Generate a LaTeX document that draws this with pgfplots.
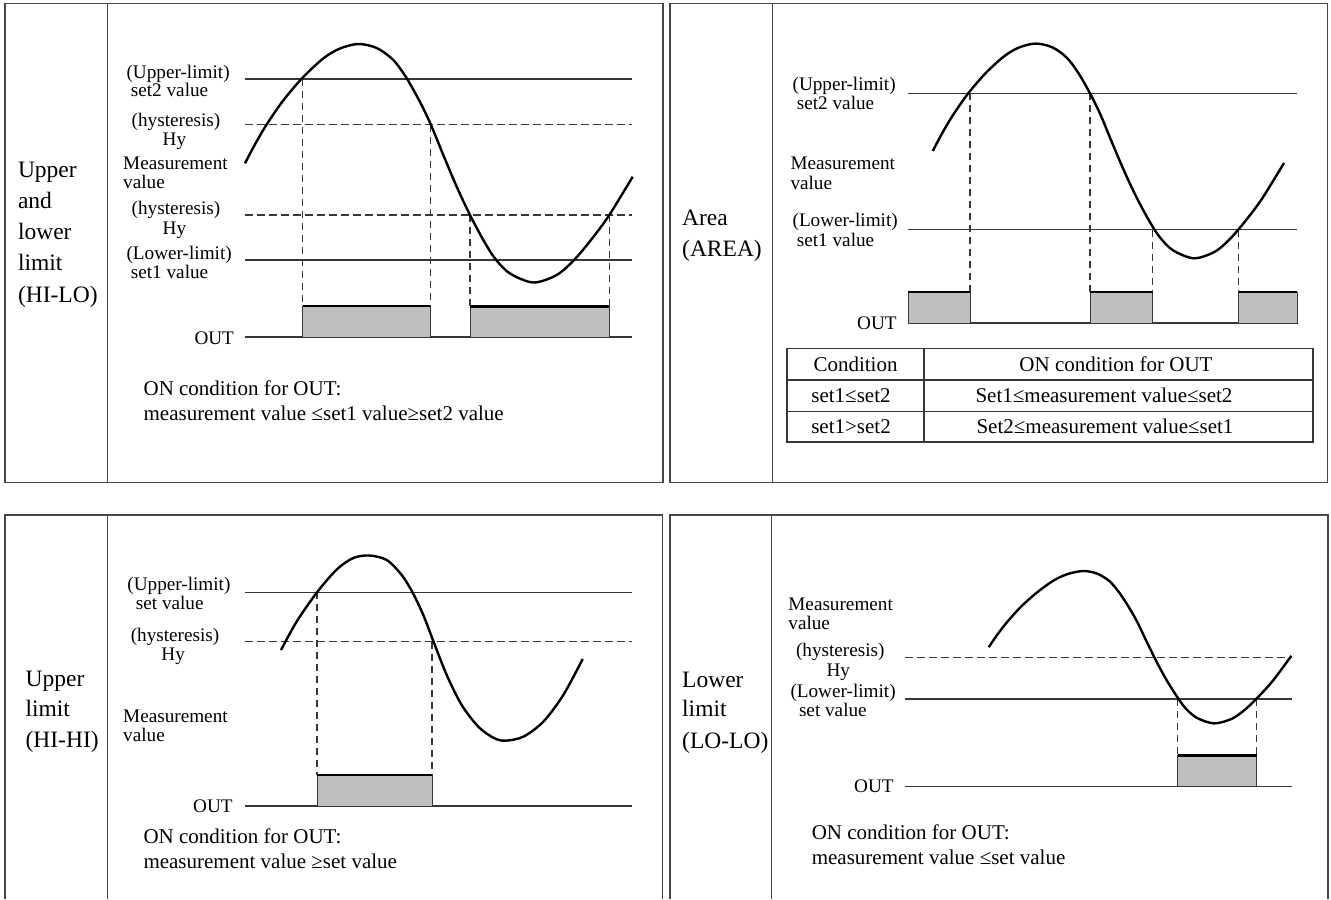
\documentclass[border=0pt]{standalone}
\usepackage{pgfplots}
\pgfplotsset{compat=1.18}
\usepackage{fontspec}
\setmainfont{Liberation Serif}

\definecolor{boxgray}{RGB}{190,192,190}
\definecolor{ln}{RGB}{55,55,55}
\definecolor{frm}{RGB}{70,70,70}

\tikzset{
  lbl/.style={font=\fontsize{19.2}{20}\selectfont, inner sep=0pt, anchor=base west},
  cond/.style={font=\fontsize{21}{24}\selectfont, inner sep=0pt, anchor=base west},
  side/.style={font=\fontsize{23.5}{26}\selectfont, inner sep=0pt, anchor=base west},
  cell/.style={font=\fontsize{21}{24}\selectfont, inner sep=0pt, anchor=base},
}
\pgfplotsset{
  lim/.style={ln, line width=1.5pt},
  hy/.style={ln, line width=1.3pt, dash pattern=on 7.5pt off 4.5pt},
  drop/.style={ln, line width=1.1pt, dash pattern=on 7pt off 5pt},
  sig/.style={black, line width=2.4pt, smooth},
  outbox/.style={fill=boxgray, draw=ln, line width=1pt},
  outtop/.style={black, line width=2.8pt},
  frame/.style={frm, line width=1.6pt},
}

\begin{document}
\begin{tikzpicture}
\begin{axis}[
    width=1331pt, height=899pt, scale only axis,
    xmin=0, xmax=1331, ymin=0, ymax=899,
    y dir=reverse, hide axis, clip=false, no markers,
  ]
% page
\addplot[fill=white, draw=none] coordinates {(0,0) (1331,0) (1331,899) (0,899)} -- cycle;

% frames
\addplot[frame] coordinates {(5,3.5) (663,3.5) (663,482.5) (5,482.5)} -- cycle;
\addplot[frame] coordinates {(107.3,3.5) (107.3,482.5)};
\addplot[frame] coordinates {(670,3.5) (1327.5,3.5) (1327.5,482.5) (670,482.5)} -- cycle;
\addplot[frame] coordinates {(772.5,3.5) (772.5,482.5)};
\addplot[frame] coordinates {(5,899) (5,515) (662.5,515) (662.5,899)};
\addplot[frame] coordinates {(107.3,515) (107.3,899)};
\addplot[frame] coordinates {(670,899) (670,515) (1328,515) (1328,899)};
\addplot[frame] coordinates {(771.6,515) (771.6,899)};

% ---------- panel 1: HI-LO ----------
\addplot[lim] coordinates {(245,79) (632,79)};
\addplot[hy] coordinates {(245,124.5) (632,124.5)};
\addplot[hy] coordinates {(245,215) (632,215)};
\addplot[lim] coordinates {(245,260) (632,260)};
\addplot[lim] coordinates {(245,337) (632,337)};
\addplot[outbox] coordinates {(302.7,337) (302.7,306) (430.7,306) (430.7,337)} -- cycle;
\addplot[outbox] coordinates {(470,337) (470,306.5) (609.3,306.5) (609.3,337)} -- cycle;
\addplot[outtop] coordinates {(302.7,306) (430.7,306)};
\addplot[outtop] coordinates {(470,306.5) (609.3,306.5)};
\addplot[drop] coordinates {(302.7,79) (302.7,306)};
\addplot[drop] coordinates {(430.7,124.5) (430.7,306)};
\addplot[drop] coordinates {(470,215) (470,306)};
\addplot[drop] coordinates {(609.3,215) (609.3,306)};
\addplot[sig] coordinates {
  (245,163.3) (255,144.3) (266.7,124.4) (283.3,100.4) (302.7,77.6)
  (323.3,58.4) (340,48.5) (358.3,44) (376.7,48) (393.3,60)
  (406.7,78.3) (420,102) (430.7,124.3) (443.3,155) (456.7,186.7)
  (470,215) (483.3,240) (495,258.5) (510,273.5) (533.3,282.5)
  (556.7,275) (575,259) (593.3,237) (609.3,215) (632.7,176.7)};

\node[lbl] at (126.4,78.3) {(Upper-limit)};
\node[lbl] at (130.7,96.8) {set2 value};
\node[lbl] at (131.5,126.8) {(hysteresis)};
\node[lbl] at (162.5,145.8) {Hy};
\node[lbl] at (123,169.8) {Measurement};
\node[lbl] at (123,188.8) {value};
\node[lbl] at (131.5,214.8) {(hysteresis)};
\node[lbl] at (162.5,234.8) {Hy};
\node[lbl] at (126.4,259.8) {(Lower-limit)};
\node[lbl] at (130.7,278.8) {set1 value};
\node[lbl] at (194.3,344.3) {OUT};
\node[cond] at (143.4,395.3) {ON condition for OUT:};
\node[cond] at (143.4,420.3) {measurement value ≤set1 value≥set2 value};
\node[side] at (17.8,177.9) {Upper};
\node[side] at (17.8,208.7) {and};
\node[side] at (17.8,239.9) {lower};
\node[side] at (17.8,270.1) {limit};
\node[side] at (17.8,302) {(HI-LO)};

% ---------- panel 2: AREA ----------
\addplot[lim] coordinates {(908,93.3) (1297,93.3)};
\addplot[lim] coordinates {(908,229.5) (1297,229.5)};
\addplot[lim] coordinates {(908,323) (1297,323)};
\addplot[outbox] coordinates {(908,323) (908,292) (970,292) (970,323)} -- cycle;
\addplot[outbox] coordinates {(1090,323) (1090,292) (1152.7,292) (1152.7,323)} -- cycle;
\addplot[outbox] coordinates {(1238.5,323) (1238.5,292) (1297,292) (1297,323)} -- cycle;
\addplot[outtop] coordinates {(908,292) (970,292)};
\addplot[outtop] coordinates {(1090,292) (1152.7,292)};
\addplot[outtop] coordinates {(1238.5,292) (1297,292)};
\addplot[drop] coordinates {(970,93.3) (970,292)};
\addplot[drop] coordinates {(1090,93.3) (1090,292)};
\addplot[drop] coordinates {(1152.7,229.5) (1152.7,292)};
\addplot[drop] coordinates {(1238.5,229.5) (1238.5,292)};
\addplot[sig] coordinates {
  (932.8,151) (941.8,133.9) (952.4,116) (967.4,94.4) (985,73.8)
  (1003.7,56.6) (1018.8,47.6) (1035.4,43.6) (1052.1,47.2) (1067.1,58)
  (1079.3,74.5) (1091.3,95.8) (1101,115.9) (1112.4,143.5) (1124.6,172)
  (1136.6,197.5) (1148.7,220) (1159.3,236.6) (1172.8,250.2) (1194,258.3)
  (1215.2,251.5) (1231.7,237.1) (1248.3,217.3) (1262.8,197.5) (1284,163)};

\node[lbl] at (792.4,90.7) {(Upper-limit)};
\node[lbl] at (796.7,109.8) {set2 value};
\node[lbl] at (790.3,169.6) {Measurement};
\node[lbl] at (790.3,189) {value};
\node[lbl] at (792.4,226.6) {(Lower-limit)};
\node[lbl] at (796.7,246.1) {set1 value};
\node[lbl] at (857,329.6) {OUT};
\node[side] at (682,225.8) {Area};
\node[side] at (682,256.7) {(AREA)};

% table
\addplot[lim] coordinates {(787,348.5) (1313,348.5) (1313,442) (787,442)} -- cycle;
\addplot[lim] coordinates {(787,380) (1313,380)};
\addplot[lim] coordinates {(787,411.5) (1313,411.5)};
\addplot[lim] coordinates {(924,348.5) (924,442)};
\node[cell] at (855.5,371) {Condition};
\node[cell] at (1116,371) {ON condition for OUT};
\node[cell] at (851,402.8) {set1≤set2};
\node[cell] at (1104,402.8) {Set1≤measurement value≤set2};
\node[cell] at (851,433.8) {set1>set2};
\node[cell] at (1105,433.8) {Set2≤measurement value≤set1};

% ---------- panel 3: HI-HI ----------
\addplot[lim] coordinates {(245,592.3) (632,592.3)};
\addplot[hy] coordinates {(245,641.7) (632,641.7)};
\addplot[lim] coordinates {(245,806) (632,806)};
\addplot[outbox] coordinates {(317,806) (317,775) (432,775) (432,806)} -- cycle;
\addplot[outtop] coordinates {(317,775) (432,775)};
\addplot[drop] coordinates {(317,592.3) (317,775)};
\addplot[drop] coordinates {(432,641.7) (432,775)};
\addplot[sig] coordinates {
  (281,650) (296.7,621.5) (316.7,592.7) (336.7,569.5) (353.3,558)
  (369.3,555.5) (386.7,560) (401.7,575) (412.7,592.7) (423.3,615)
  (433.3,641) (446.7,675) (461.7,705) (478.3,726.7) (493.3,737.7)
  (505,740.7) (523.3,736.7) (543.3,721.7) (563.3,695) (582.7,659)};

\node[lbl] at (127.2,590.8) {(Upper-limit)};
\node[lbl] at (135.7,609.5) {set value};
\node[lbl] at (130.6,641.8) {(hysteresis)};
\node[lbl] at (161.2,660.8) {Hy};
\node[lbl] at (123,722.8) {Measurement};
\node[lbl] at (123,741.8) {value};
\node[lbl] at (193,812.5) {OUT};
\node[cond] at (143.3,843.3) {ON condition for OUT:};
\node[cond] at (143.3,868.3) {measurement value ≥set value};
\node[side] at (25.4,686.7) {Upper};
\node[side] at (25.4,716.7) {limit};
\node[side] at (25.4,747.7) {(HI-HI)};

% ---------- panel 4: LO-LO ----------
\addplot[hy] coordinates {(905,657.3) (1291.6,657.3)};
\addplot[lim] coordinates {(905,699) (1292,699)};
\addplot[lim] coordinates {(905,786.7) (1292,786.7)};
\addplot[outbox] coordinates {(1177.5,786.7) (1177.5,755.7) (1256.5,755.7) (1256.5,786.7)} -- cycle;
\addplot[outtop] coordinates {(1177.5,755.7) (1256.5,755.7)};
\addplot[drop] coordinates {(1177.5,699) (1177.5,755.7)};
\addplot[drop] coordinates {(1256.5,699) (1256.5,755.7)};
\addplot[sig] coordinates {
  (988.7,647.2) (997,635.1) (1006.8,622.4) (1020.7,607) (1036.9,592.5)
  (1054.1,580.2) (1068.1,573.9) (1083.4,571) (1097.1,573.6) (1109.5,581.2)
  (1119.5,592.9) (1129.4,608.1) (1137.4,622.3) (1146.8,641.9) (1156.8,662.2)
  (1166.7,680.3) (1176.7,696.2) (1185.4,708.1) (1196.6,717.7) (1214,723.4)
  (1232.2,718.6) (1246.4,708.4) (1260.7,694.3) (1273.2,680.3) (1291.4,655.8)};

\node[lbl] at (788.2,610.8) {Measurement};
\node[lbl] at (788.2,629.5) {value};
\node[lbl] at (795.8,656.1) {(hysteresis)};
\node[lbl] at (826.4,676.8) {Hy};
\node[lbl] at (790.3,697.5) {(Lower-limit)};
\node[lbl] at (798.8,716.1) {set value};
\node[lbl] at (854,792.8) {OUT};
\node[cond] at (811.6,839) {ON condition for OUT:};
\node[cond] at (811.6,864.6) {measurement value ≤set value};
\node[side] at (682,687.7) {Lower};
\node[side] at (682,716.7) {limit};
\node[side] at (682,748.4) {(LO-LO)};
\end{axis}
\end{tikzpicture}
\end{document}
